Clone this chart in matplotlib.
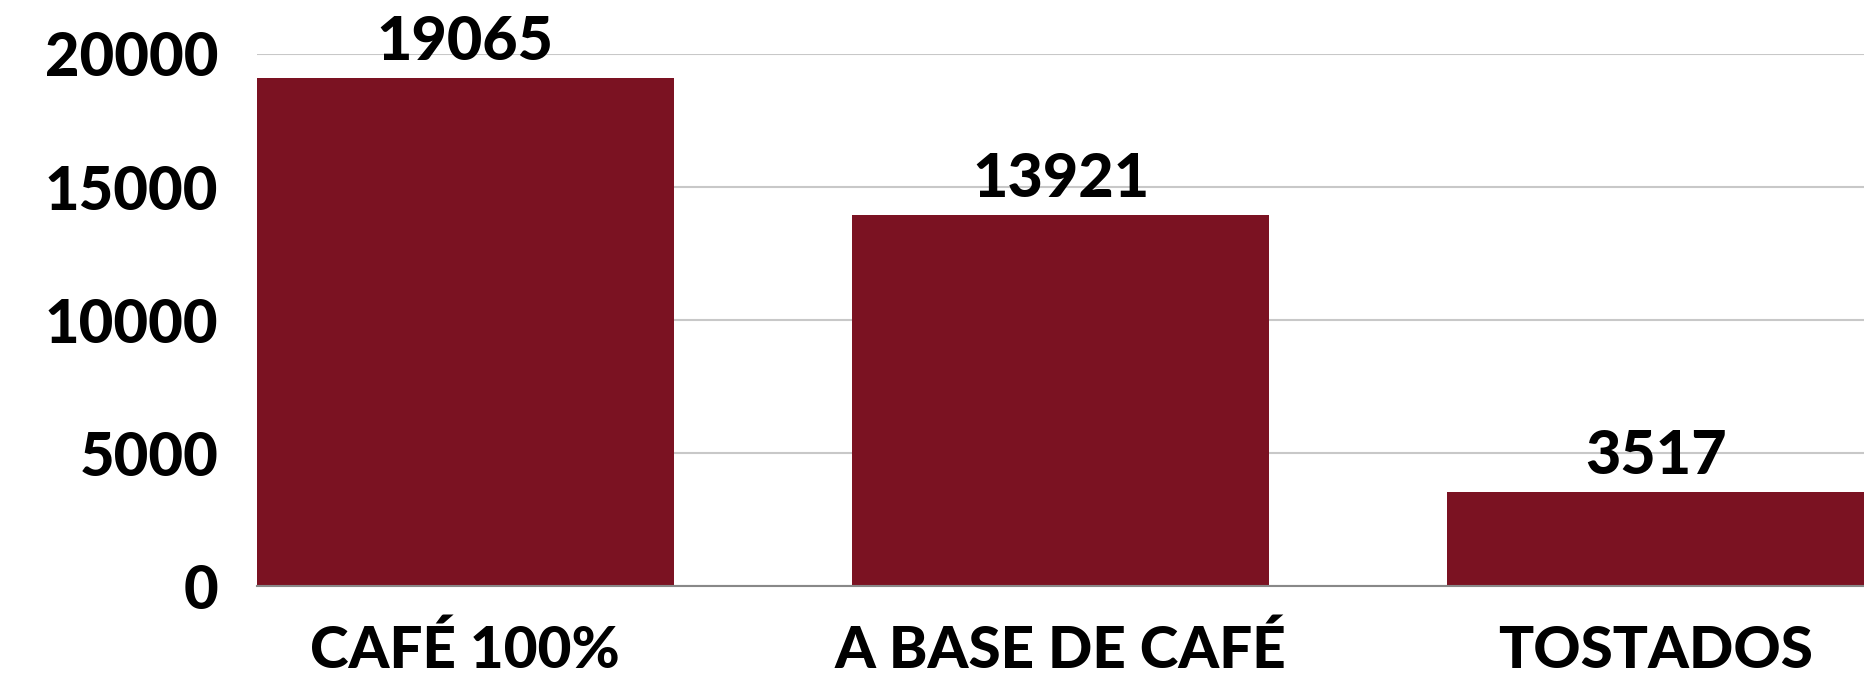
import matplotlib
matplotlib.use("Agg")
import matplotlib.pyplot as plt

categories = ["CAFÉ 100%", "A BASE DE CAFÉ", "TOSTADOS"]
values = [19065, 13921, 3517]
yticks = [0, 5000, 10000, 15000, 20000]

plt.rcParams['font.family'] = ['Lato', 'DejaVu Sans']

fig = plt.figure(figsize=(18.64, 6.84), dpi=100)
ax = fig.add_axes([257/1864, 98/684, 1607/1864, 532.5/684])

x = range(len(categories))
bars = ax.bar(x, values, width=0.7, color="#7B1222", zorder=3)
ax.set_xlim(-0.35, len(categories) - 1 + 0.35)
ax.set_ylim(0, 20000)
ax.set_yticks(yticks)
ax.set_yticklabels([str(t) for t in yticks], fontsize=43, fontweight='black')
ax.set_xticks(list(x))
ax.set_xticklabels(categories, fontsize=42, fontweight='black')
ax.tick_params(axis='y', length=0, pad=28)
ax.tick_params(axis='x', length=0, pad=28)
ax.grid(axis='y', color="#c8c8c8", linewidth=1.5, zorder=0)
for s in ['top', 'right', 'left']:
    ax.spines[s].set_visible(False)
ax.spines['bottom'].set_color("#888888")
ax.spines['bottom'].set_linewidth(1.5)
ax.spines['bottom'].set_zorder(4)

for rect, v in zip(bars, values):
    ax.annotate(str(v), (rect.get_x() + rect.get_width() / 2, v),
                xytext=(0, 6), textcoords='offset points',
                ha='center', va='bottom', fontsize=44, fontweight='black',
                annotation_clip=False)

fig.savefig("out.png", dpi=100, facecolor="white")
